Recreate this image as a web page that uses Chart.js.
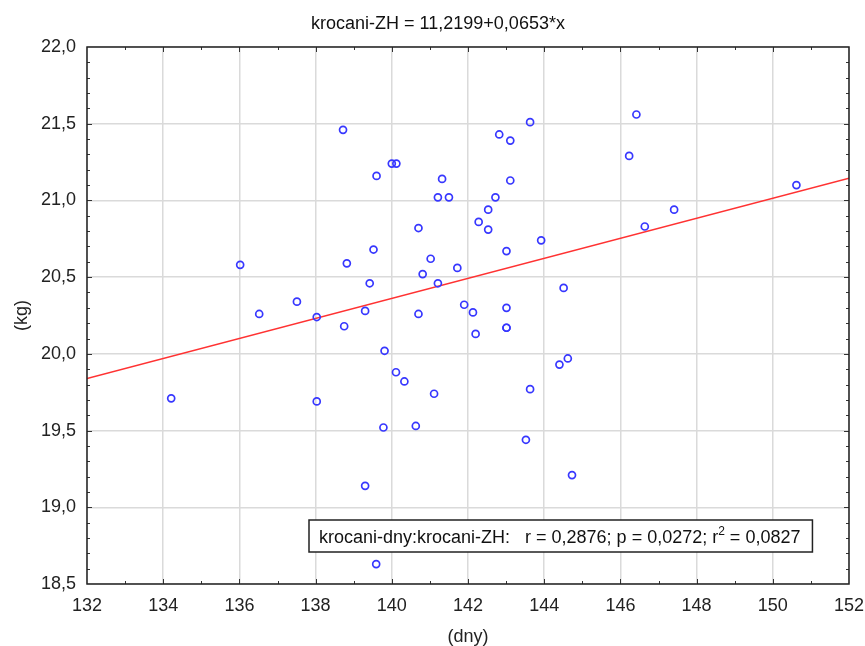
<!DOCTYPE html>
<html>
<head>
<meta charset="utf-8">
<script src="https://cdn.jsdelivr.net/npm/chart.js@4/dist/chart.umd.min.js"></script>
<style>
  body { margin: 0; background: #fff; }
  #wrap { width: 865px; height: 646px; }
</style>
</head>
<body>
<div id="wrap"><canvas id="krocani" width="865" height="646"></canvas></div>
<script>
// krocani-dny vs krocani-ZH
const dny = [138.72, 140.00, 140.12, 139.60, 141.32, 141.21, 141.50, 142.28, 140.70, 139.52,
             141.02, 136.02, 138.82, 141.72, 140.81, 139.42, 141.21, 137.51, 136.52, 138.03,
             139.30, 140.70, 141.90, 142.13, 138.75, 146.42, 143.63, 142.82, 143.11, 146.23,
             143.11, 142.72, 150.62, 142.53, 147.41, 142.53, 146.64, 143.92, 143.01, 144.51,
             143.01, 143.01, 143.01, 142.20, 144.40, 144.62, 143.63, 143.52, 144.73, 139.81,
             140.11, 140.33, 141.11, 134.21, 138.03, 139.78, 140.63, 139.30, 139.59];
const kg = [21.46, 21.24, 21.24, 21.16, 21.14, 21.02, 21.02, 20.86, 20.82, 20.68,
            20.62, 20.58, 20.59, 20.56, 20.52, 20.46, 20.46, 20.34, 20.26, 20.24,
            20.28, 20.26, 20.32, 20.27, 20.18, 21.56, 21.51, 21.43, 21.39, 21.29,
            21.13, 21.02, 21.10, 20.94, 20.94, 20.81, 20.83, 20.74, 20.67, 20.43,
            20.30, 20.17, 20.17, 20.13, 19.93, 19.97, 19.77, 19.44, 19.21, 20.02,
            19.88, 19.82, 19.74, 19.71, 19.69, 19.52, 19.53, 19.14, 18.63];
const fitIntercept = 11.2199;
const fitSlope = 0.0653;
const xRange = [132, 152];
const yRange = [18.5, 22.0];
const titleText = "krocani-ZH = 11,2199+0,0653*x";
const statsParts = ["krocani-dny:krocani-ZH:   r = 0,2876; p = 0,0272; r", "2", " = 0,0827"];

const points = dny.map((x, i) => ({ x: x, y: kg[i] }));
const fitLine = xRange.map(x => ({ x: x, y: fitIntercept + fitSlope * x }));
const comma = v => v.toFixed(1).replace(".", ",");

const FONT = "'Liberation Sans', Arial, sans-serif";
Chart.defaults.font.family = FONT;
Chart.defaults.color = "#222";

// title, ticks inside the frame, stats box
const extras = {
  id: "extras",
  afterDatasetsDraw(chart) {
    const { ctx, chartArea: a, scales } = chart;
    ctx.save();
    ctx.strokeStyle = "#333";
    ctx.lineWidth = 1;
    ctx.beginPath();
    for (let i = 1; i < 20; i++) {
      const len = i % 2 === 0 ? 5 : 3;
      const px = Math.round(scales.x.getPixelForValue(xRange[0] + i)) + 0.5;
      ctx.moveTo(px, a.bottom); ctx.lineTo(px, a.bottom - len);
      ctx.moveTo(px, a.top); ctx.lineTo(px, a.top + len);
    }
    for (let i = 1; i < 35; i++) {
      const len = i % 5 === 0 ? 5 : 3;
      const py = Math.round(scales.y.getPixelForValue(yRange[0] + i * 0.1)) + 0.5;
      ctx.moveTo(a.left, py); ctx.lineTo(a.left + len, py);
      ctx.moveTo(a.right, py); ctx.lineTo(a.right - len, py);
    }
    ctx.stroke();

    // frame
    ctx.strokeStyle = "#222";
    ctx.lineWidth = 1.5;
    ctx.strokeRect(a.left, a.top, a.right - a.left, a.bottom - a.top);

    // title
    const big = "18px " + FONT, small = "12px " + FONT;
    ctx.font = big;
    ctx.fillStyle = "#111";
    ctx.textAlign = "center";
    ctx.textBaseline = "middle";
    ctx.fillText(titleText, 438, 24);

    // stats box
    ctx.textAlign = "left";
    const w0 = ctx.measureText(statsParts[0]).width;
    const w2 = ctx.measureText(statsParts[2]).width;
    ctx.font = small;
    const w1 = ctx.measureText(statsParts[1]).width;
    const bx = 309, by = 520, bw = w0 + w1 + w2 + 22, bh = 32;
    ctx.fillStyle = "#fff";
    ctx.fillRect(bx, by, bw, bh);
    ctx.strokeStyle = "#222";
    ctx.lineWidth = 1.5;
    ctx.strokeRect(bx, by, bw, bh);
    ctx.fillStyle = "#111";
    ctx.textBaseline = "alphabetic";
    const base = by + 23;
    ctx.font = big;
    ctx.fillText(statsParts[0], bx + 10, base);
    ctx.font = small;
    ctx.fillText(statsParts[1], bx + 10 + w0, base - 8);
    ctx.font = big;
    ctx.fillText(statsParts[2], bx + 10 + w0 + w1, base);
    ctx.restore();
  }
};

new Chart(document.getElementById("krocani"), {
  type: "scatter",
  data: {
    datasets: [
      {
        label: "krocani",
        data: points,
        pointStyle: "circle",
        pointRadius: 3.5,
        pointBorderWidth: 1.7,
        borderColor: "rgb(55, 55, 255)",
        backgroundColor: "rgba(255, 255, 255, 0)",
        order: 1,
      },
      {
        label: "fit",
        type: "line",
        data: fitLine,
        borderColor: "rgb(255, 50, 50)",
        borderWidth: 1.5,
        pointRadius: 0,
        fill: false,
        order: 2,
      },
    ],
  },
  options: {
    responsive: false,
    animation: false,
    layout: { padding: { left: 0, right: 16, top: 47, bottom: 0 } },
    scales: {
      x: {
        type: "linear",
        min: xRange[0],
        max: xRange[1],
        afterFit: s => { s.height = 62; s.paddingLeft = 0; s.paddingRight = 0; },
        ticks: { stepSize: 2, color: "#222", font: { size: 18 }, padding: 11 },
        grid: { color: "#dadada", lineWidth: 1.5, drawTicks: false },
        border: { display: false },
        title: { display: true, text: "(dny)", color: "#222", font: { size: 18, lineHeight: 1 }, padding: { top: 0, bottom: 0 } },
      },
      y: {
        min: yRange[0],
        max: yRange[1],
        afterFit: s => { s.width = 87; s.paddingTop = 0; s.paddingBottom = 0; },
        ticks: { stepSize: 0.5, color: "#222", font: { size: 18 }, padding: 11, callback: v => comma(v) },
        grid: { color: "#dadada", lineWidth: 1.5, drawTicks: false },
        border: { display: false },
        title: { display: true, text: "(kg)", color: "#222", font: { size: 18 }, padding: { top: 11, bottom: 0 } },
      },
    },
    plugins: {
      legend: { display: false },
      tooltip: { enabled: false },
      title: { display: false },
    },
  },
  plugins: [extras],
});
</script>
</body>
</html>
